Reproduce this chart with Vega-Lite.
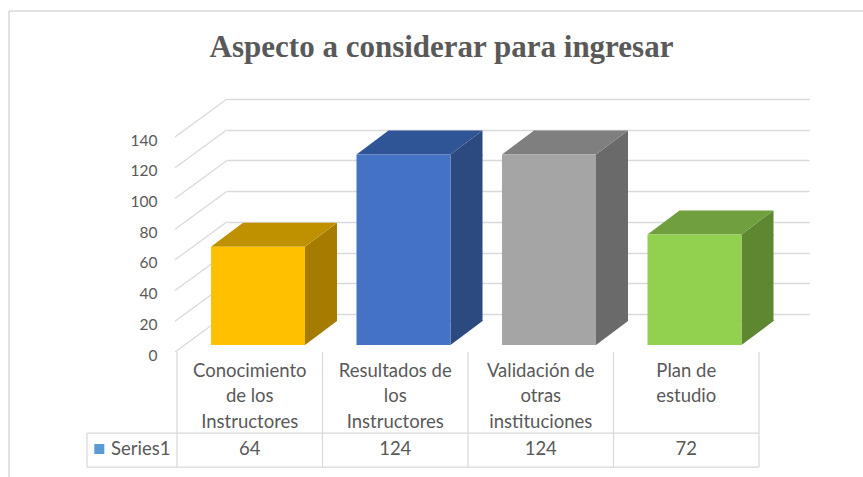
{
  "$schema": "https://vega.github.io/schema/vega-lite/v6.json",
  "width": 582,
  "height": 215,
  "autosize": {"type": "none"},
  "padding": {"left": 227, "top": 99, "right": 54, "bottom": 163},
  "background": "white",
  "config": {"view": {"stroke": null}, "font": "Lato"},
  "title": {
    "text": "Aspecto a considerar para ingresar",
    "font": "Liberation Serif",
    "fontSize": 31,
    "fontWeight": "bold",
    "color": "#595959",
    "anchor": "middle",
    "frame": "group",
    "baseline": "alphabetic",
    "offset": 0,
    "dx": -76.5,
    "dy": 78
  },
  "datasets": {
    "aspects": [
      {"cat": "Conocimiento de los Instructores", "label": ["Conocimiento", "de los", "Instructores"], "value": 64},
      {"cat": "Resultados de los Instructores", "label": ["Resultados de", "los", "Instructores"], "value": 124},
      {"cat": "Validación de otras instituciones", "label": ["Validación de", "otras", "instituciones"], "value": 124},
      {"cat": "Plan de estudio", "label": ["Plan de", "estudio"], "value": 72}
    ],
    "ticks": [{"t": 0}, {"t": 20}, {"t": 40}, {"t": 60}, {"t": 80}, {"t": 100}, {"t": 120}, {"t": 140}],
    "one": [{"series": "Series1"}]
  },
  "data": {"name": "aspects"},
  "resolve": {"scale": {"fill": "independent"}},
  "layer": [
    {
      "data": {"name": "one"},
      "mark": {"type": "rule", "color": "#D9D9D9", "strokeWidth": 1.5, "xOffset": -290.75, "x2Offset": 570.25, "yOffset": -303, "y2Offset": -303},
      "encoding": {
        "x": {"datum": "Conocimiento de los Instructores", "type": "nominal", "axis": null,
              "scale": {"domain": ["Conocimiento de los Instructores", "Resultados de los Instructores", "Validación de otras instituciones", "Plan de estudio"], "paddingInner": 0, "paddingOuter": 0}},
        "x2": {"datum": "Conocimiento de los Instructores"},
        "y": {"datum": 0, "type": "quantitative",
              "scale": {"domain": [0, 140], "nice": false, "zero": true},
              "axis": {"values": [0, 20, 40, 60, 80, 100, 120, 140], "tickCount": 8, "labelOverlap": false, "grid": true, "gridColor": "#D9D9D9", "gridWidth": 1.5,
                       "domain": false, "ticks": false, "tickSize": 0, "labelPadding": 70, "labelOffset": 41,
                       "labelFont": "Lato", "labelFontSize": 15.5, "labelColor": "#595959", "title": null}},
        "y2": {"datum": 0}
      }
    },
    {
      "data": {"name": "one"},
      "mark": {"type": "rule", "color": "#D9D9D9", "strokeWidth": 1.5, "xOffset": -290.75, "x2Offset": -290.75, "yOffset": -303, "y2Offset": 170},
      "encoding": {
        "x": {"datum": "Conocimiento de los Instructores", "type": "nominal"},
        "x2": {"datum": "Conocimiento de los Instructores"},
        "y": {"datum": 0, "type": "quantitative"},
        "y2": {"datum": 0}
      }
    },
    {
      "data": {"name": "ticks"},
      "mark": {"type": "rule", "color": "#D9D9D9", "strokeWidth": 1.25, "xOffset": -124.75, "x2Offset": -72.75, "yOffset": 38, "y2Offset": 0},
      "encoding": {
        "x": {"datum": "Conocimiento de los Instructores", "type": "nominal"},
        "x2": {"datum": "Conocimiento de los Instructores"},
        "y": {"field": "t", "type": "quantitative"},
        "y2": {"field": "t"}
      }
    },
    {
      "mark": {"type": "rule", "color": "#D9D9D9", "strokeWidth": 1.25, "xOffset": -122.75, "x2Offset": -122.75, "yOffset": 38, "y2Offset": 153},
      "encoding": {
        "x": {"field": "cat", "type": "nominal"},
        "x2": {"field": "cat"},
        "y": {"datum": 0, "type": "quantitative"},
        "y2": {"datum": 0}
      }
    },
    {
      "data": {"name": "one"},
      "mark": {"type": "rule", "color": "#D9D9D9", "strokeWidth": 1.25, "xOffset": 22.75, "x2Offset": 22.75, "yOffset": 38, "y2Offset": 153},
      "encoding": {
        "x": {"datum": "Plan de estudio", "type": "nominal"},
        "x2": {"datum": "Plan de estudio"},
        "y": {"datum": 0, "type": "quantitative"},
        "y2": {"datum": 0}
      }
    },
    {
      "data": {"name": "one"},
      "mark": {"type": "rule", "color": "#D9D9D9", "strokeWidth": 1.25, "xOffset": -212.75, "x2Offset": -212.75, "yOffset": 119, "y2Offset": 153},
      "encoding": {
        "x": {"datum": "Conocimiento de los Instructores", "type": "nominal"},
        "x2": {"datum": "Conocimiento de los Instructores"},
        "y": {"datum": 0, "type": "quantitative"},
        "y2": {"datum": 0}
      }
    },
    {
      "data": {"name": "one"},
      "mark": {"type": "rule", "color": "#D9D9D9", "strokeWidth": 1.25, "xOffset": -212.75, "x2Offset": 22.75, "yOffset": 119, "y2Offset": 119},
      "encoding": {
        "x": {"datum": "Conocimiento de los Instructores", "type": "nominal"},
        "x2": {"datum": "Plan de estudio"},
        "y": {"datum": 0, "type": "quantitative"},
        "y2": {"datum": 0}
      }
    },
    {
      "data": {"name": "one"},
      "mark": {"type": "rule", "color": "#D9D9D9", "strokeWidth": 1.25, "xOffset": -212.75, "x2Offset": 22.75, "yOffset": 153, "y2Offset": 153},
      "encoding": {
        "x": {"datum": "Conocimiento de los Instructores", "type": "nominal"},
        "x2": {"datum": "Plan de estudio"},
        "y": {"datum": 0, "type": "quantitative"},
        "y2": {"datum": 0}
      }
    },
    {
      "mark": {"type": "bar", "width": 32, "xOffset": 21.25, "yOffset": 31, "y2Offset": 7},
      "encoding": {
        "x": {"field": "cat", "type": "nominal"},
        "y": {"field": "value", "type": "quantitative", "stack": null},
        "y2": {"datum": 0},
        "fill": {"field": "cat", "type": "nominal", "legend": null,
                 "scale": {"domain": ["Conocimiento de los Instructores", "Resultados de los Instructores", "Validación de otras instituciones", "Plan de estudio"], "range": ["#A67C00", "#2C4A80", "#6A6A6A", "#5E8732"]}}
      }
    },
    {
      "mark": {"type": "point", "shape": "M5.25,31L37.25,7L37.25,32L5.25,32Z", "size": 4, "filled": true, "opacity": 1, "strokeWidth": 0},
      "encoding": {
        "x": {"field": "cat", "type": "nominal"},
        "y": {"field": "value", "type": "quantitative"},
        "fill": {"field": "cat", "type": "nominal", "legend": null,
                 "scale": {"domain": ["Conocimiento de los Instructores", "Resultados de los Instructores", "Validación de otras instituciones", "Plan de estudio"], "range": ["#A67C00", "#2C4A80", "#6A6A6A", "#5E8732"]}}
      }
    },
    {
      "mark": {"type": "point", "shape": "M5.25,6L37.25,6L37.25,7L5.25,31Z", "size": 4, "filled": true, "opacity": 1, "strokeWidth": 0},
      "encoding": {
        "x": {"field": "cat", "type": "nominal"},
        "y": {"datum": 0, "type": "quantitative"},
        "fill": {"field": "cat", "type": "nominal", "legend": null,
                 "scale": {"domain": ["Conocimiento de los Instructores", "Resultados de los Instructores", "Validación de otras instituciones", "Plan de estudio"], "range": ["#A67C00", "#2C4A80", "#6A6A6A", "#5E8732"]}}
      }
    },
    {
      "mark": {"type": "point", "shape": "M-88.75,31L5.25,31L37.25,7L-56.75,7Z", "size": 4, "filled": true, "opacity": 1, "strokeWidth": 0},
      "encoding": {
        "x": {"field": "cat", "type": "nominal"},
        "y": {"field": "value", "type": "quantitative"},
        "fill": {"field": "cat", "type": "nominal", "legend": null,
                 "scale": {"domain": ["Conocimiento de los Instructores", "Resultados de los Instructores", "Validación de otras instituciones", "Plan de estudio"], "range": ["#BF9000", "#2F5597", "#7F7F7F", "#6FA03D"]}}
      }
    },
    {
      "mark": {"type": "bar", "width": 94, "xOffset": -41.75, "yOffset": 31, "y2Offset": 31},
      "encoding": {
        "x": {"field": "cat", "type": "nominal"},
        "y": {"field": "value", "type": "quantitative", "stack": null},
        "y2": {"datum": 0},
        "fill": {"field": "cat", "type": "nominal", "legend": null,
                 "scale": {"domain": ["Conocimiento de los Instructores", "Resultados de los Instructores", "Validación de otras instituciones", "Plan de estudio"], "range": ["#FFC000", "#4472C4", "#A5A5A5", "#92D050"]}}
      }
    },
    {
      "mark": {"type": "text", "font": "Lato", "fontSize": 18.5, "color": "#595959", "align": "center", "baseline": "alphabetic", "lineHeight": 25.3, "xOffset": -50, "yOffset": 63},
      "encoding": {
        "x": {"field": "cat", "type": "nominal"},
        "y": {"datum": 0, "type": "quantitative"},
        "text": {"field": "label"}
      }
    },
    {
      "mark": {"type": "text", "font": "Lato", "fontSize": 18.5, "color": "#595959", "align": "center", "baseline": "alphabetic", "xOffset": -50, "yOffset": 141},
      "encoding": {
        "x": {"field": "cat", "type": "nominal"},
        "y": {"datum": 0, "type": "quantitative"},
        "text": {"field": "value", "type": "quantitative"}
      }
    },
    {
      "data": {"name": "one"},
      "mark": {"type": "text", "font": "Lato", "fontSize": 18.5, "color": "#595959", "align": "left", "baseline": "alphabetic", "xOffset": -188.75, "yOffset": 141},
      "encoding": {
        "x": {"datum": "Conocimiento de los Instructores", "type": "nominal"},
        "y": {"datum": 0, "type": "quantitative"},
        "text": {"field": "series"}
      }
    },
    {
      "data": {"name": "one"},
      "mark": {"type": "point", "shape": "square", "size": 100, "filled": true, "opacity": 1, "strokeWidth": 0, "color": "#5B9BD5", "xOffset": -200.45, "yOffset": 135},
      "encoding": {
        "x": {"datum": "Conocimiento de los Instructores", "type": "nominal"},
        "y": {"datum": 0, "type": "quantitative"}
      }
    }
  ]
}
